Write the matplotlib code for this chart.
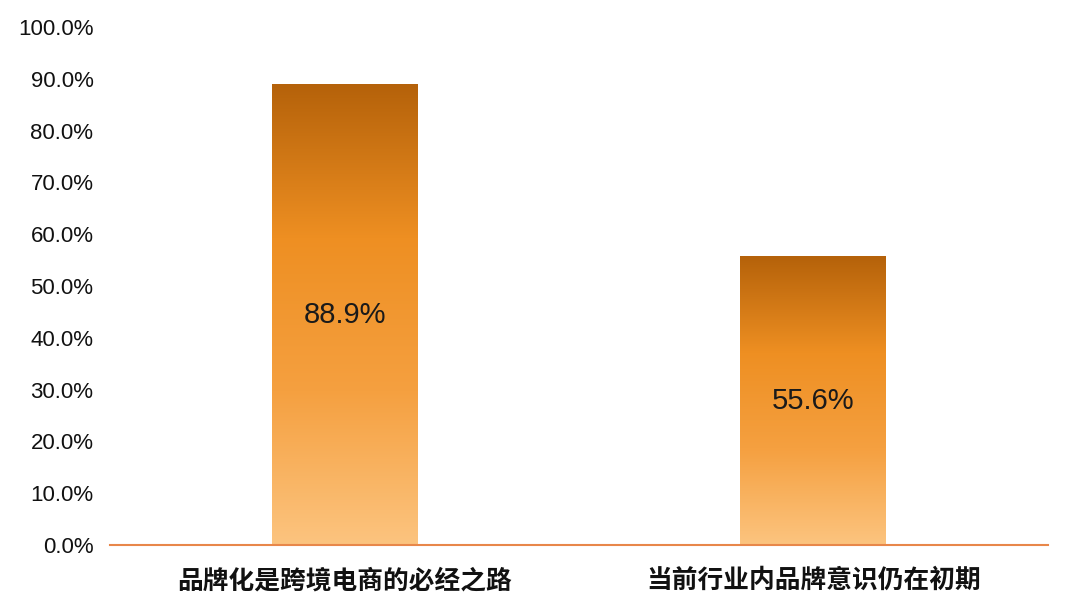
import numpy as np
import matplotlib.pyplot as plt
from matplotlib.colors import LinearSegmentedColormap
from matplotlib.ticker import PercentFormatter

categories = ['品牌化是跨境电商的必经之路', '当前行业内品牌意识仍在初期']
values = [88.9, 55.6]
yticks = [0, 10, 20, 30, 40, 50, 60, 70, 80, 90, 100]

plt.rcParams['font.family'] = ['Liberation Sans', 'Noto Sans CJK SC', 'DejaVu Sans']

# bottom -> top gradient
grad = LinearSegmentedColormap.from_list('bar', ['#fcc47f', '#f5a040', '#ee8f22', '#b5620a'])

fig = plt.figure(figsize=(10.8, 6.16), dpi=100)
ax = fig.add_axes([0.102, 0.1153, 0.868, 0.8409])

bar_w = 0.311
x = np.arange(len(categories))
bars = ax.bar(x, values, width=bar_w, color='none')
g = np.linspace(0, 1, 256).reshape(-1, 1)
for b in bars:
    x0, h = b.get_x(), b.get_height()
    ax.imshow(g, cmap=grad, origin='lower', aspect='auto',
              extent=[x0, x0 + b.get_width(), 0, h], zorder=2)

for xi, v in zip(x, values):
    ax.text(xi, v / 2, f'{v:.1f}%', ha='center', va='center',
            fontsize=21, color='#1a1a1a', zorder=3)

ax.set_xlim(-0.5, 1.5)
ax.set_ylim(0, 100)
ax.set_yticks(yticks)
ax.yaxis.set_major_formatter(PercentFormatter(decimals=1))
ax.set_xticks(x)
ax.set_xticklabels(categories, fontsize=18.5, fontweight='bold',
                   family=['Noto Sans CJK SC', 'DejaVu Sans'])
ax.tick_params(axis='y', length=0, labelsize=16, pad=12, colors='#111111')
ax.tick_params(axis='x', length=0, pad=16, colors='#111111')

for s in ['top', 'right', 'left']:
    ax.spines[s].set_visible(False)
ax.spines['bottom'].set_color('#e8874a')
ax.spines['bottom'].set_linewidth(1.5)
ax.spines['bottom'].set_zorder(4)

fig.savefig('out.png', dpi=100)
